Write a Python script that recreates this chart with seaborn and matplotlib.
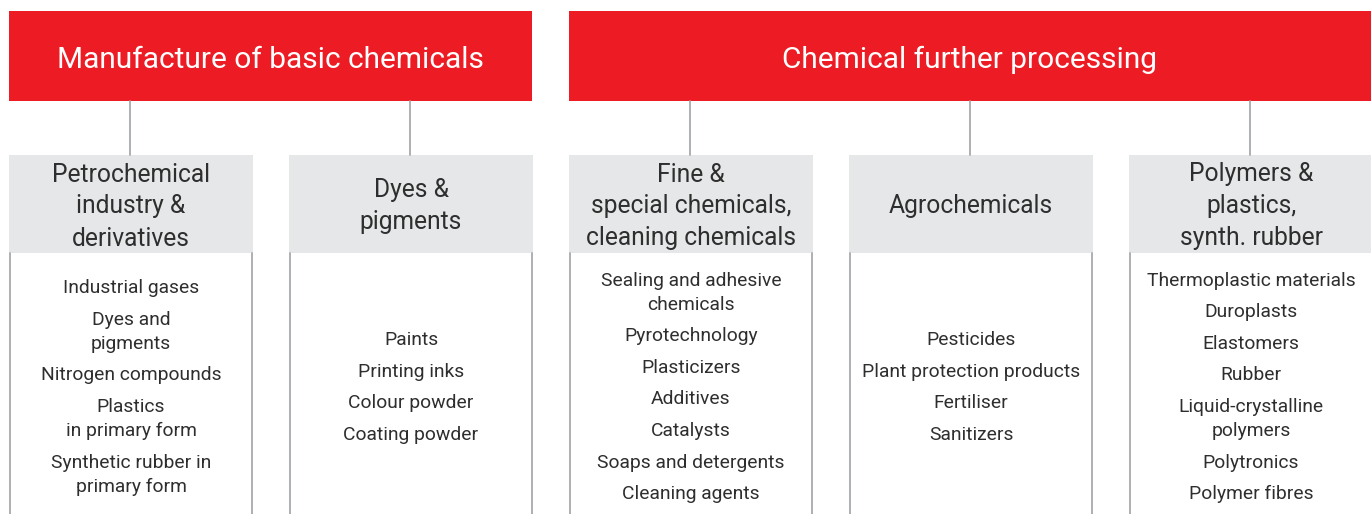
import seaborn as sns
import matplotlib.pyplot as plt
from matplotlib.patches import Rectangle

# diagram content
groups = ["Manufacture of basic chemicals", "Chemical further processing"]
group_children = [[0, 1], [2, 3, 4]]

categories = [
    "Petrochemical\nindustry &\nderivatives",
    "Dyes &\npigments",
    "Fine &\nspecial chemicals,\ncleaning chemicals",
    "Agrochemicals",
    "Polymers &\nplastics,\nsynth. rubber",
]

items = [
    ["Industrial gases", "Dyes and\npigments", "Nitrogen compounds",
     "Plastics\nin primary form", "Synthetic rubber in\nprimary form"],
    ["Paints", "Printing inks", "Colour powder", "Coating powder"],
    ["Sealing and adhesive\nchemicals", "Pyrotechnology", "Plasticizers", "Additives",
     "Catalysts", "Soaps and detergents", "Cleaning agents"],
    ["Pesticides", "Plant protection products", "Fertiliser", "Sanitizers"],
    ["Thermoplastic materials", "Duroplasts", "Elastomers", "Rubber",
     "Liquid-crystalline\npolymers", "Polytronics", "Polymer fibres"],
]

RED = "#ED1C24"
GREY_BOX = "#E6E7E8"
LINE = "#A7A9AC"
TXT = "#2E2E2E"

sns.set_theme(style="white")
plt.rcParams["font.family"] = ["Roboto", "DejaVu Sans"]

W, H = 1371, 514
fig = plt.figure(figsize=(W / 100, H / 100), dpi=100)
ax = fig.add_axes([0, 0, 1, 1])
ax.set_xlim(0, W)
ax.set_ylim(H, 0)
ax.axis("off")

# layout (pixels)
col_left = 9
col_w = 244
col_step = 280
head_top, head_bot = 11, 101
sub_top, sub_bot = 155, 253
content_mid = 387.5
line_h, item_gap = 24, 31.6

def col_x(i):
    return col_left + i * col_step

# red group headers
for g, kids in enumerate(group_children):
    x0 = col_x(kids[0])
    x1 = W if g == 1 else col_x(kids[-1]) + col_w - 1
    ax.add_patch(Rectangle((x0, head_top), x1 - x0, head_bot - head_top,
                           facecolor=RED, edgecolor="none"))
    ax.text((x0 + x1) / 2, (head_top + head_bot) / 2 + 3.5, groups[g],
            color="white", fontsize=21.5, ha="center", va="center")

for i, cat in enumerate(categories):
    x0 = col_x(i)
    cx = x0 + col_w / 2
    # connector
    ax.plot([cx - 1, cx - 1], [head_bot, sub_top], color=LINE, lw=1.3)
    # grey sub header
    ax.add_patch(Rectangle((x0, sub_top), col_w, sub_bot - sub_top,
                           facecolor=GREY_BOX, edgecolor="none"))
    lines = cat.split("\n")
    sub_mid = (sub_top + sub_bot) / 2 + 2.5
    for k, ln in enumerate(lines):
        y = sub_mid + (k - (len(lines) - 1) / 2) * 32
        ax.text(cx, y, ln, color=TXT, fontsize=17.7, ha="center", va="center")
    # content frame
    ax.plot([x0 + 1, x0 + 1], [sub_bot, H], color=LINE, lw=1.3)
    ax.plot([x0 + col_w - 1, x0 + col_w - 1], [sub_bot, H], color=LINE, lw=1.3)
    # items, stacked and centred vertically
    pos = []
    y = 0
    for it in items[i]:
        for k, ln in enumerate(it.split("\n")):
            if k > 0:
                y += line_h
            pos.append((y, ln))
        y += item_gap
    extent = pos[-1][0]
    for y, ln in pos:
        ax.text(cx, content_mid - extent / 2 + y, ln, color=TXT,
                fontsize=13.9, ha="center", va="center")

fig.savefig("out.png", dpi=100, facecolor="white")
